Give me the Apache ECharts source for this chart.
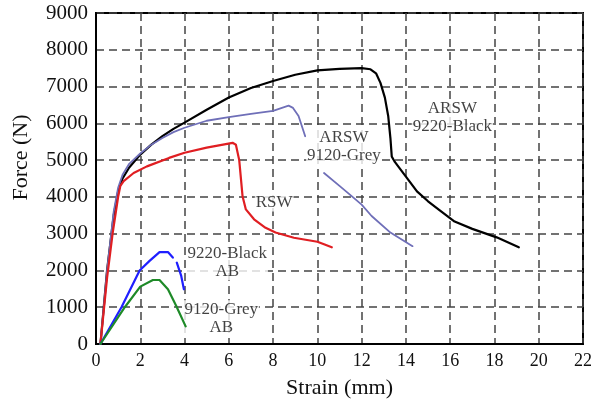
<!DOCTYPE html>
<html><head><meta charset="utf-8">
<script src="https://cdn.jsdelivr.net/npm/echarts@6/dist/echarts.min.js"></script>
<style>html,body{margin:0;padding:0;background:#fff}#c{width:595px;height:404px}</style>
</head><body><div id="c"></div>
<script>
var xTicks = [0,2,4,6,8,10,12,14,16,18,20,22];
var yTicks = [0,1000,2000,3000,4000,5000,6000,7000,8000,9000];

var arsw9220 = [[0.2,0],[0.5,2000],[0.8,3500],[1.0,4150],[1.2,4500],[1.5,4800],[2,5150],[2.5,5420],[3,5650],[3.5,5850],[4,6020],[5,6370],[6,6700],[7,6960],[8,7150],[9,7320],[10,7440],[11,7480],[12,7500],[12.4,7470],[12.65,7360],[12.85,7100],[13.05,6700],[13.2,6200],[13.3,5600],[13.36,5100],[13.5,4950],[14.0,4550],[14.5,4150],[15,3880],[15.5,3650],[16.2,3330],[17,3130],[18.1,2900],[19.1,2630]];
var arsw9120 = [[0.2,0],[0.5,2000],[0.8,3600],[1.0,4250],[1.2,4600],[1.5,4900],[2,5180],[2.5,5420],[3,5600],[3.5,5760],[4,5880],[5,6070],[6,6170],[7,6260],[8,6340],[8.7,6480],[8.9,6420],[9.15,6200],[9.45,5650],[9.9,'-'],[10.3,4650],[11.0,4300],[11.55,4020],[12.0,3790],[12.45,3480],[13.3,3030],[14.3,2660]];
var rsw = [[0.2,0],[0.5,1800],[0.75,3000],[1.0,4000],[1.1,4300],[1.25,4430],[1.7,4650],[2.3,4830],[3.3,5060],[4,5200],[5,5340],[6.17,5470],[6.32,5420],[6.47,5000],[6.62,4020],[6.77,3660],[7.14,3390],[7.66,3160],[8.11,3030],[8.94,2890],[10.0,2780],[10.3,2710],[10.65,2630]];
var ab9220 = [[0.2,0],[1.15,1000],[1.97,2000],[2.42,2260],[2.87,2500],[3.25,2500],[3.47,2350],[3.56,'-'],[3.65,2210],[3.85,1850],[3.97,1490]];
var ab9120 = [[0.2,0],[1.3,1000],[2.0,1560],[2.57,1740],[2.87,1740],[3.25,1490],[3.62,1040],[4.05,480]];

var labelTexts = ['ARSW\n9220-Black','ARSW\n9120-Grey','RSW','9220-Black\nAB','9120-Grey\nAB'];
var labelAt = [[16.1,6150],[11.2,5370],[8.05,3850],[5.93,2220],[5.66,700]];

var chart = echarts.init(document.getElementById('c'), null, {renderer:'canvas'});
var FONT = '"Liberation Serif","DejaVu Serif",serif';
function lineS(name, data, color, w){
  return {name:name,type:'line',data:data,symbol:'none',connectNulls:false,
    lineStyle:{color:color,width:w,join:'round',cap:'round'},itemStyle:{color:color},z:3};
}
var labelData = labelAt.map(function(p,i){return {value:p, name:labelTexts[i]};});
chart.setOption({
  animation:false,
  grid:{left:96,right:8,top:13,bottom:59,show:true,borderColor:'#000',borderWidth:2,backgroundColor:'transparent'},
  xAxis:{type:'value',min:xTicks[0],max:xTicks[xTicks.length-1],interval:2,
    name:'Strain (mm)',nameLocation:'middle',nameGap:33,
    nameTextStyle:{fontFamily:FONT,fontSize:22,color:'#111'},
    axisLine:{show:true,lineStyle:{color:'#000',width:2}},axisTick:{show:false},
    axisLabel:{fontFamily:FONT,fontSize:18,color:'#111',margin:8},
    splitLine:{show:true,lineStyle:{color:'#444',width:1.5,type:[8,5]}}},
  yAxis:{type:'value',min:yTicks[0],max:yTicks[yTicks.length-1],interval:1000,
    name:'Force (N)',nameLocation:'middle',nameGap:64,
    nameTextStyle:{fontFamily:FONT,fontSize:22,color:'#111',padding:[0,0,0,42]},
    axisLine:{show:true,lineStyle:{color:'#000',width:2}},axisTick:{show:false},
    axisLabel:{fontFamily:FONT,fontSize:21,color:'#111',margin:8,formatter:function(v){return String(v);}},
    splitLine:{show:true,lineStyle:{color:'#444',width:1.5,type:[8,5]}}},
  series:[
    lineS('ARSW 9220-Black',arsw9220,'#000000',2.2),
    lineS('ARSW 9120-Grey',arsw9120,'#6f6fb8',1.8),
    lineS('RSW',rsw,'#e01e22',2.2),
    lineS('9220-Black AB',ab9220,'#1f1fff',2.2),
    lineS('9120-Grey AB',ab9120,'#1e8a28',2.2),
    {type:'scatter',data:labelData,symbolSize:0,z:2,silent:true,
     label:{show:true,position:'inside',formatter:function(p){return p.name;},
       fontFamily:FONT,fontSize:17,color:'#111',lineHeight:18,align:'center',verticalAlign:'middle',
       backgroundColor:'#fff',padding:[0,1]}}
  ]
});
</script></body></html>
